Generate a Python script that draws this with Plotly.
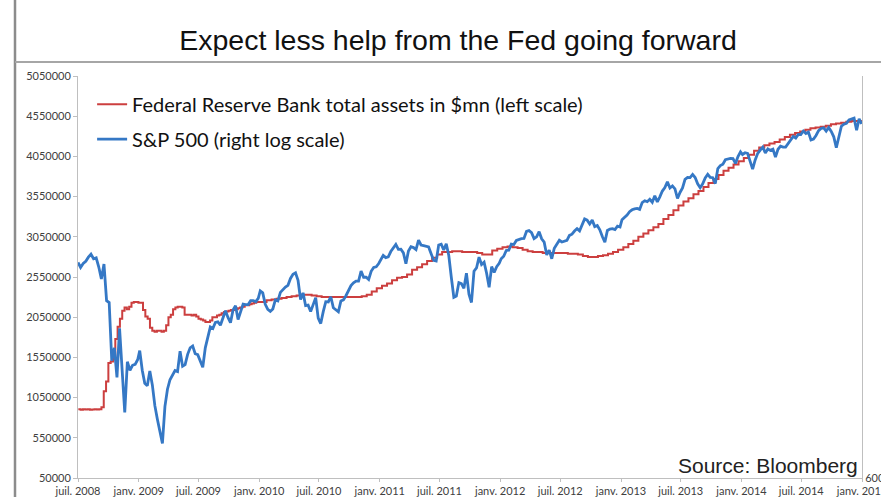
import pandas as pd
import plotly.graph_objects as go

TITLE = "Expect less help from the Fed going forward"
SOURCE = "Source: Bloomberg"
FED_NAME = "Federal Reserve Bank total assets in $mn (left scale)"
SPX_NAME = "S&P 500 (right log scale)"

# Federal Reserve total assets ($mn)
fed_2008 = [905000, 900000, 905000, 902000, 905000,
            900000, 903000, 905000, 902000,
            905000, 930000, 1130000, 1250000,
            1480000, 1500000, 1560000, 1780000, 1930000,
            2030000, 2130000, 2170000, 2150000,
            2180000, 2230000, 2240000, 2240000, 2230000]
fed_2009 = [2230000, 2140000, 2060000, 2030000,
            1920000, 1880000, 1870000, 1880000,
            1880000, 1870000, 1880000, 1950000,
            2050000, 2080000, 2150000, 2170000, 2180000,
            2180000, 2170000, 2080000, 2080000,
            2080000, 2070000, 2080000, 2060000,
            2030000, 2020000, 2010000, 1990000, 1990000,
            2010000, 2050000, 2050000, 2070000,
            2080000, 2100000, 2115000, 2120000, 2130000,
            2140000, 2140000, 2150000, 2160000,
            2170000, 2180000, 2200000, 2200000,
            2210000, 2220000, 2230000, 2240000, 2240000]
fed_2010 = [2240000, 2260000, 2270000, 2280000, 2290000, 2300000,
            2310000, 2320000, 2330000, 2330000, 2320000, 2310000,
            2300000, 2300000, 2300000, 2300000, 2300000, 2300000,
            2300000, 2300000, 2310000, 2330000, 2370000, 2410000]
fed_2011 = [2440000, 2470000, 2510000, 2540000, 2550000, 2580000,
            2640000, 2670000, 2710000, 2750000, 2790000, 2830000,
            2860000, 2860000, 2870000, 2870000, 2860000, 2860000,
            2860000, 2850000, 2830000, 2830000, 2880000, 2900000]
fed_2012 = [2920000, 2930000, 2920000, 2910000, 2890000, 2870000,
            2860000, 2860000, 2850000, 2850000, 2850000, 2850000,
            2850000, 2840000, 2840000, 2830000, 2810000, 2800000,
            2800000, 2810000, 2820000, 2840000, 2860000, 2890000]
fed_2013 = [2920000, 2960000, 3000000, 3050000, 3090000, 3130000,
            3170000, 3210000, 3270000, 3320000, 3380000, 3440000,
            3490000, 3530000, 3580000, 3620000, 3670000, 3720000,
            3770000, 3820000, 3870000, 3910000, 3950000, 3990000]
fed_2014 = [4030000, 4070000, 4120000, 4160000, 4190000, 4210000,
            4230000, 4260000, 4290000, 4320000, 4340000, 4360000,
            4380000, 4400000, 4410000, 4420000, 4430000, 4450000,
            4460000, 4470000, 4480000, 4490000, 4490000, 4500000]

# S&P 500 index level (right log scale)
spx_2008 = [1262, 1240, 1257, 1267, 1285, 1298, 1278, 1282,
            1242, 1192, 1255, 1106, 1099, 899, 940, 849,
            1005, 873, 752, 896, 870, 885, 888, 903]
spx_2009 = [931, 870, 832, 825, 868, 827, 770, 735,
            700, 676, 768, 815, 842, 856, 869, 866,
            929, 882, 887, 919, 940, 946, 921, 918,
            896, 879, 940, 979, 1010, 1005, 1026, 1028,
            1016, 1042, 1068, 1044, 1025, 1071, 1087, 1036,
            1069, 1093, 1091, 1091, 1106, 1106, 1102, 1115]
spx_2010 = [1144, 1136, 1092, 1073, 1066, 1075, 1109, 1105,
            1138, 1149, 1159, 1166, 1194, 1211, 1217, 1186,
            1110, 1136, 1087, 1089, 1065, 1091, 1117, 1041,
            1022, 1065, 1102, 1101, 1121, 1079, 1071, 1064,
            1105, 1109, 1125, 1146, 1165, 1176, 1183, 1183,
            1225, 1199, 1199, 1190, 1224, 1240, 1243, 1257]
spx_2011 = [1271, 1293, 1283, 1286, 1310, 1329, 1343, 1320,
            1321, 1304, 1256, 1313, 1332, 1328, 1319, 1363,
            1340, 1337, 1333, 1331, 1300, 1271, 1268, 1340,
            1344, 1317, 1346, 1292, 1199, 1119, 1124, 1177,
            1173, 1154, 1216, 1131, 1099, 1224, 1238, 1285,
            1253, 1263, 1216, 1158, 1244, 1219, 1243, 1258]
spx_2012 = [1278, 1289, 1315, 1316, 1344, 1342, 1361, 1366,
            1370, 1371, 1404, 1408, 1398, 1370, 1378, 1403,
            1369, 1353, 1295, 1317, 1278, 1325, 1343, 1362,
            1354, 1357, 1362, 1385, 1391, 1406, 1418, 1407,
            1438, 1466, 1460, 1441, 1460, 1428, 1433, 1412,
            1380, 1353, 1409, 1416, 1418, 1413, 1430, 1426]
spx_2013 = [1462, 1472, 1486, 1503, 1513, 1518, 1520, 1515,
            1551, 1561, 1556, 1569, 1553, 1588, 1555, 1582,
            1614, 1633, 1667, 1631, 1643, 1626, 1573, 1606,
            1631, 1680, 1692, 1691, 1709, 1691, 1655, 1633,
            1655, 1688, 1710, 1692, 1690, 1656, 1744, 1762,
            1770, 1798, 1804, 1806, 1805, 1775, 1818, 1848]
spx_2014 = [1831, 1842, 1838, 1790, 1741, 1797, 1838, 1859,
            1878, 1841, 1866, 1857, 1865, 1815, 1864, 1884,
            1878, 1878, 1900, 1924, 1949, 1937, 1962, 1961,
            1985, 1968, 1978, 1925, 1931, 1955, 1988, 2003,
            2007, 1985, 2010, 1982, 1946, 1874, 1941, 2018,
            2032, 2039, 2063, 2067, 2075, 1990, 2070, 2035]

# x-axis ticks (French month labels)
tick_dates = ["2008-07-01", "2009-01-01", "2009-07-01", "2010-01-01", "2010-07-01",
              "2011-01-01", "2011-07-01", "2012-01-01", "2012-07-01", "2013-01-01",
              "2013-07-01", "2014-01-01", "2014-07-01", "2015-01-01"]
tick_labels = ["juil. 2008", "janv. 2009", "juil. 2009", "janv. 2010", "juil. 2010",
               "janv. 2011", "juil. 2011", "janv. 2012", "juil. 2012", "janv. 2013",
               "juil. 2013", "janv. 2014", "juil. 2014", "janv. 2015"]
left_ticks = list(range(50000, 5050001, 500000))


def span(values, start, end):
    return list(pd.date_range(start, end, periods=len(values)))


fed_x, fed_y = [], []
for vals, s, e in [(fed_2008, "2008-07-02", "2008-12-31"),
                   (fed_2009, "2009-01-07", "2009-12-30"),
                   (fed_2010, "2010-01-08", "2010-12-23"),
                   (fed_2011, "2011-01-08", "2011-12-23"),
                   (fed_2012, "2012-01-08", "2012-12-23"),
                   (fed_2013, "2013-01-08", "2013-12-23"),
                   (fed_2014, "2014-01-08", "2014-12-31")]:
    fed_x += span(vals, s, e)
    fed_y += vals

spx_x, spx_y = [], []
for vals, s, e in [(spx_2008, "2008-07-01", "2008-12-29"),
                   (spx_2009, "2009-01-04", "2009-12-29"),
                   (spx_2010, "2010-01-04", "2010-12-29"),
                   (spx_2011, "2011-01-04", "2011-12-29"),
                   (spx_2012, "2012-01-04", "2012-12-29"),
                   (spx_2013, "2013-01-04", "2013-12-29"),
                   (spx_2014, "2014-01-04", "2014-12-31")]:
    spx_x += span(vals, s, e)
    spx_y += vals

RED = "#CC3F3F"
BLUE = "#3578C5"
AXIS = "#BFBFBF"
TICKFONT = dict(family="Lato", size=11, color="#404040")
LEGFONT = dict(family="Lato", size=20, color="#111111")

fig = go.Figure()
fig.add_trace(go.Scatter(x=fed_x, y=fed_y, name=FED_NAME, mode="lines",
                         line=dict(color=RED, width=2, shape="hv"),
                         yaxis="y", legend="legend", showlegend=True))
fig.add_trace(go.Scatter(x=spx_x, y=spx_y, name=SPX_NAME, mode="lines",
                         line=dict(color=BLUE, width=2.8),
                         yaxis="y2", legend="legend2", showlegend=True))

fig.update_layout(
    width=881, height=497,
    margin=dict(l=78, r=19, t=76, b=19, autoexpand=False),
    paper_bgcolor="white", plot_bgcolor="white",
    showlegend=True,
    title=dict(text=TITLE, x=458 / 881, xanchor="center", y=1 - 40 / 497, yanchor="middle",
               automargin=False,
               font=dict(family="Liberation Sans", size=28.5, color="#111111")),
    xaxis=dict(type="date", range=["2008-07-01", "2015-01-01"],
               tickvals=tick_dates, ticktext=tick_labels, tickangle=0,
               showgrid=False, showline=True, linecolor=AXIS, linewidth=1,
               ticks="outside", ticklen=3, tickcolor=AXIS, tickfont=TICKFONT,
               zeroline=False, automargin=False, ticklabeloverflow="allow"),
    yaxis=dict(range=[50000, 5050000], tickvals=left_ticks, tickformat="d",
               showgrid=False, showline=True, linecolor=AXIS, linewidth=1,
               ticks="outside", ticklen=4, tickcolor=AXIS, tickfont=TICKFONT,
               zeroline=False, automargin=False),
    yaxis2=dict(type="log", range=[2.77815, 3.38021], overlaying="y", side="right",
                tickvals=[600], ticktext=["600"], showgrid=False, showline=True,
                linecolor=AXIS, linewidth=1, ticks="", tickfont=TICKFONT, zeroline=False,
                automargin=False, ticklabeloverflow="allow"),
    legend=dict(x=0.018, y=0.93, xanchor="left", yanchor="middle", bgcolor="rgba(0,0,0,0)",
                font=LEGFONT, itemwidth=30),
    legend2=dict(x=0.018, y=0.843, xanchor="left", yanchor="middle", bgcolor="rgba(0,0,0,0)",
                 font=LEGFONT, itemwidth=30),
    annotations=[dict(text=SOURCE, xref="paper", yref="paper", x=(860 - 78) / 784,
                      y=(478 - 465) / 402, xanchor="right", yanchor="middle", showarrow=False,
                      font=dict(family="Liberation Sans", size=21, color="#222222"))],
    shapes=[
        dict(type="line", xref="paper", yref="paper", x0=(15 - 78) / 784, x1=(15 - 78) / 784,
             y0=(478 - 0) / 402, y1=(478 - 497) / 402, line=dict(color="#8C8C8C", width=2.5)),
        dict(type="line", xref="paper", yref="paper", x0=(15 - 78) / 784, x1=(881 - 78) / 784,
             y0=(478 - 62) / 402, y1=(478 - 62) / 402, line=dict(color="#A6A6A6", width=2)),
    ],
)

fig.write_html("out.html", config={"displayModeBar": False},
               post_script="document.body.style.margin='0';document.body.style.padding='0';")
